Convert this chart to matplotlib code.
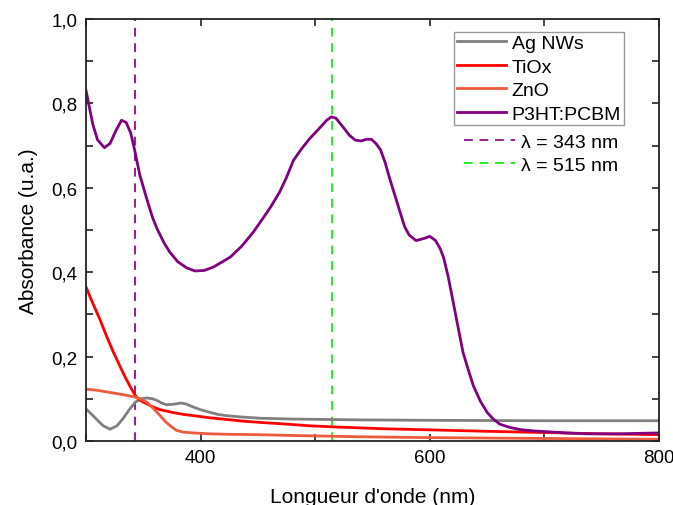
import matplotlib
matplotlib.use('Agg')
import matplotlib.pyplot as plt
from matplotlib.lines import Line2D
from matplotlib.ticker import MultipleLocator, FuncFormatter

plt.rcParams['font.family'] = ['Liberation Sans', 'DejaVu Sans']

# P3HT:PCBM
wl_p3ht = [300, 303, 306, 310, 316, 321, 326, 331, 335, 339, 342, 347, 353, 358, 362,
           368, 373, 380, 388, 395, 403, 411, 418, 426, 436, 446, 455, 461, 469, 475,
           481, 488, 495, 505, 510, 514, 518, 524, 530, 535, 540, 545, 549, 553, 557,
           561, 565, 570, 574, 578, 582, 588, 595, 600, 605, 609, 612, 616, 620, 625,
           629, 634, 638, 644, 650, 655, 661, 670, 679, 690, 708, 720, 737, 750, 766,
           780, 800]
abs_p3ht = [0.831, 0.790, 0.750, 0.714, 0.695, 0.705, 0.735, 0.760, 0.755, 0.730, 0.695,
            0.630, 0.574, 0.530, 0.503, 0.470, 0.448, 0.425, 0.410, 0.403, 0.404, 0.412,
            0.423, 0.436, 0.462, 0.495, 0.530, 0.554, 0.590, 0.625, 0.665, 0.692, 0.716,
            0.745, 0.760, 0.768, 0.765, 0.745, 0.724, 0.713, 0.711, 0.715, 0.715, 0.705,
            0.690, 0.660, 0.622, 0.578, 0.543, 0.508, 0.488, 0.475, 0.480, 0.485, 0.475,
            0.456, 0.435, 0.390, 0.335, 0.265, 0.210, 0.165, 0.131, 0.095, 0.068, 0.053,
            0.040, 0.032, 0.027, 0.024, 0.021, 0.019, 0.017, 0.017, 0.017, 0.018, 0.019]

# Ag NWs
wl_ag = [300, 305, 309, 315, 321, 327, 332, 338, 343, 348, 353, 358, 362, 366, 370, 376,
         383, 388, 394, 400, 408, 415, 423, 435, 452, 480, 540, 600, 700, 800]
abs_ag = [0.076, 0.063, 0.052, 0.036, 0.028, 0.036, 0.052, 0.075, 0.092, 0.100, 0.102,
          0.100, 0.096, 0.090, 0.086, 0.087, 0.090, 0.087, 0.080, 0.074, 0.068, 0.063,
          0.060, 0.057, 0.054, 0.052, 0.050, 0.049, 0.048, 0.048]

# TiOx
wl_tiox = [300, 306, 312, 318, 324, 330, 335, 340, 344, 348, 353, 358, 365, 375, 385,
           394, 408, 423, 437, 452, 475, 495, 520, 540, 560, 591, 650, 700, 750, 800]
abs_tiox = [0.365, 0.326, 0.289, 0.248, 0.210, 0.175, 0.147, 0.122, 0.104, 0.095, 0.088,
            0.081, 0.074, 0.068, 0.063, 0.060, 0.055, 0.051, 0.047, 0.044, 0.040, 0.036,
            0.033, 0.031, 0.029, 0.027, 0.023, 0.020, 0.017, 0.015]

# ZnO
wl_zno = [300, 310, 321, 332, 343, 348, 353, 357, 362, 366, 370, 375, 379, 385, 394,
          408, 423, 450, 481, 540, 600, 700, 800]
abs_zno = [0.123, 0.120, 0.115, 0.110, 0.104, 0.099, 0.092, 0.082, 0.068, 0.056, 0.044,
           0.033, 0.025, 0.021, 0.019, 0.017, 0.016, 0.015, 0.013, 0.010, 0.008, 0.006,
           0.004]

lam1 = 343
lam2 = 515

c_ag = '#808080'
c_tiox = '#ff0000'
c_zno = '#ee5a3c'
c_p3ht = '#800080'
c_l1 = '#9a1a9a'
c_l2 = '#22ee22'
dash = (0, (4.5, 3.5))

fig = plt.figure(figsize=(6.73, 5.06), dpi=100)
ax = fig.add_axes([86/673, 64/506, 573/673, 422/506])

ax.axvline(lam1, color=c_l1, ls=dash, lw=1.4)
ax.axvline(lam2, color=c_l2, ls=dash, lw=1.4)

l_ag, = ax.plot(wl_ag, abs_ag, color=c_ag, lw=2)
l_tiox, = ax.plot(wl_tiox, abs_tiox, color=c_tiox, lw=2)
l_zno, = ax.plot(wl_zno, abs_zno, color=c_zno, lw=2)
l_p3ht, = ax.plot(wl_p3ht, abs_p3ht, color=c_p3ht, lw=2)

ax.set_xlim(300, 800)
ax.set_ylim(0, 1.0)
ax.xaxis.set_major_locator(MultipleLocator(200))
ax.xaxis.set_minor_locator(MultipleLocator(100))
ax.yaxis.set_major_locator(MultipleLocator(0.2))
ax.yaxis.set_minor_locator(MultipleLocator(0.1))
ax.yaxis.set_major_formatter(FuncFormatter(lambda v, p: ('%.1f' % v).replace('.', ',')))
ax.tick_params(which='both', direction='in', top=True, right=True, labelsize=13.5,
               width=1.2, length=5, color='#222222', pad=6)
for s in ax.spines.values():
    s.set_linewidth(1.3)
    s.set_color('#222222')

ax.set_xlabel("Longueur d'onde (nm)", fontsize=15, labelpad=15)
ax.set_ylabel('Absorbance (u.a.)', fontsize=15, labelpad=10)

leg1 = ax.legend([l_ag, l_tiox, l_zno, l_p3ht], ['Ag NWs', 'TiOx', 'ZnO', 'P3HT:PCBM'],
                 loc='upper left', bbox_to_anchor=(0.643, 0.97), fontsize=14,
                 handlelength=2.5, handletextpad=0.3, labelspacing=0.3,
                 borderpad=0.15, borderaxespad=0, fancybox=False, framealpha=1,
                 edgecolor='#999999')
leg1.get_frame().set_linewidth(1.0)
ax.add_artist(leg1)

h1 = Line2D([], [], color=c_l1, ls=dash, lw=1.4)
h2 = Line2D([], [], color=c_l2, ls=dash, lw=1.4)
ax.legend([h1, h2], ['λ = 343 nm', 'λ = 515 nm'],
          loc='upper left', bbox_to_anchor=(0.66, 0.73), fontsize=14, frameon=False,
          handlelength=2.6, handletextpad=0.3, labelspacing=0.3, borderpad=0,
          borderaxespad=0)

fig.savefig('out.png', dpi=100)
